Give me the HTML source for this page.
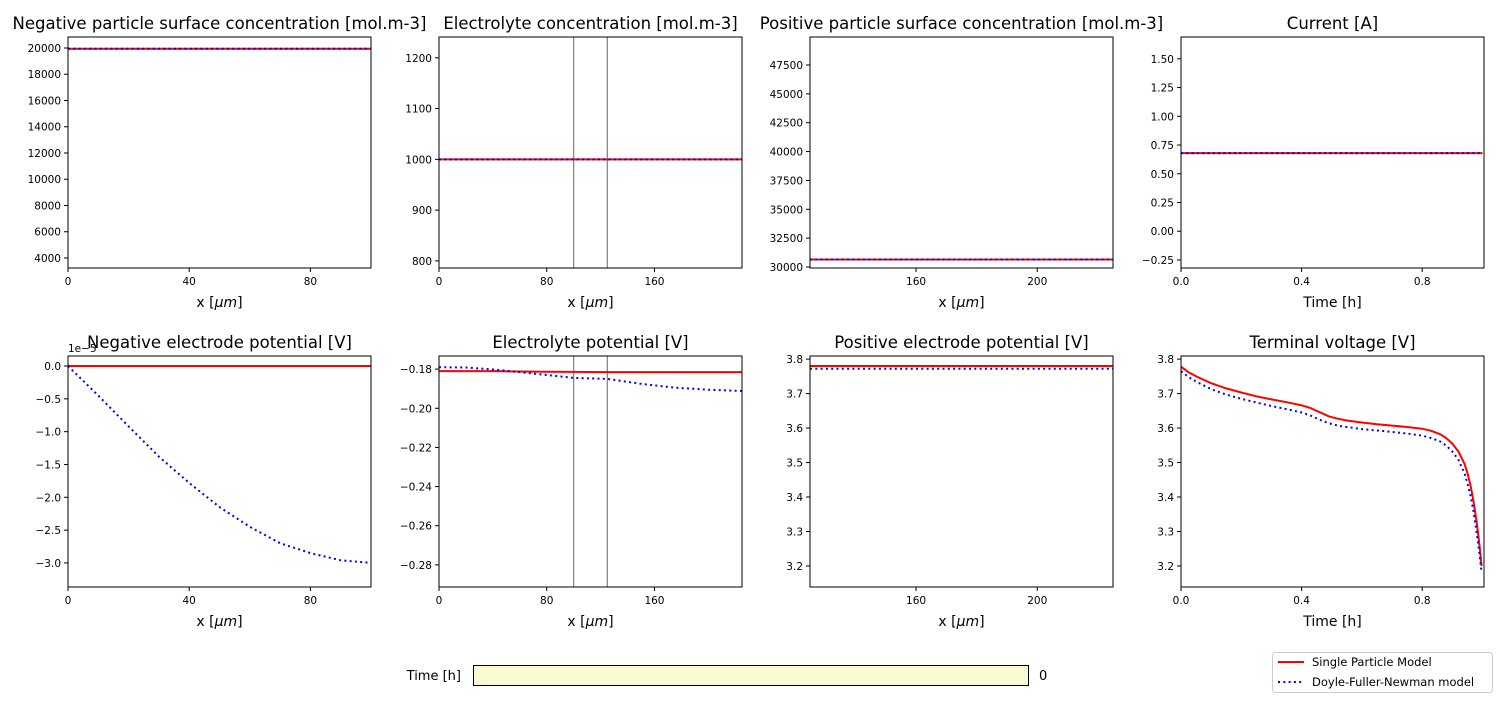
<!DOCTYPE html>
<html><head><meta charset="utf-8"><style>
body{margin:0;background:#fff;}
svg{font-family:"DejaVu Sans","Liberation Sans",sans-serif;}
</style></head><body>
<svg id="fig" width="1500" height="700" viewBox="0 0 1500 700"></svg>
<script>
// ---- data ----
const negConcX=[0,100], negConcSPM=[19950,19950], negConcDFN=[19950,19950];
const elConcX=[0,225], elConcSPM=[1000,1000], elConcDFN=[1000,1000];
const posConcX=[125,225], posConcSPM=[30650,30650], posConcDFN=[30650,30650];
const currX=[0,1], currSPM=[0.68,0.68], currDFN=[0.68,0.68];
const negPotX=[0,10,20,30,40,50,60,70,80,90,100];
const negPotSPM=[0,0,0,0,0,0,0,0,0,0,0];
const negPotDFN=[0,-0.45,-0.92,-1.38,-1.78,-2.15,-2.45,-2.7,-2.85,-2.96,-3.0];
const elPotX=[0,20,40,60,80,100,125,150,175,200,225];
const elPotSPM=[-0.181,-0.181,-0.181,-0.1812,-0.1813,-0.1814,-0.1815,-0.1815,-0.1815,-0.1815,-0.1815];
const elPotDFN=[-0.179,-0.1792,-0.1802,-0.1815,-0.183,-0.1845,-0.185,-0.1875,-0.1895,-0.1905,-0.1912];
const posPotX=[125,225], posPotSPM=[3.78,3.78], posPotDFN=[3.772,3.772];
const tvX=[0,0.025,0.05,0.1,0.15,0.2,0.25,0.3,0.35,0.4,0.43,0.46,0.49,0.52,0.55,0.6,0.65,0.7,0.75,0.8,0.83,0.86,0.88,0.9,0.92,0.94,0.95,0.96,0.97,0.98,0.99,0.997];
const tvSPM=[3.778,3.762,3.75,3.73,3.715,3.703,3.692,3.683,3.675,3.666,3.658,3.646,3.634,3.627,3.622,3.616,3.611,3.607,3.603,3.598,3.592,3.582,3.571,3.555,3.532,3.497,3.47,3.435,3.39,3.33,3.26,3.2];
const tvDFN=[3.765,3.748,3.735,3.713,3.697,3.685,3.674,3.664,3.655,3.645,3.636,3.624,3.614,3.607,3.603,3.597,3.593,3.589,3.584,3.578,3.571,3.561,3.549,3.532,3.508,3.47,3.44,3.405,3.36,3.3,3.235,3.18];
const ticksNegConc=[4000,6000,8000,10000,12000,14000,16000,18000,20000];
const ticksElConc=[800,900,1000,1100,1200];
const ticksPosConc=[30000,32500,35000,37500,40000,42500,45000,47500];
const ticksCurr=[-0.25,0,0.25,0.5,0.75,1,1.25,1.5];
const ticksNegPot=[0,-0.5,-1,-1.5,-2,-2.5,-3];
const ticksElPot=[-0.18,-0.2,-0.22,-0.24,-0.26,-0.28];
const ticksV=[3.2,3.3,3.4,3.5,3.6,3.7,3.8];
const xt1=[0,40,80], xt2=[0,80,160], xt3=[160,200], xtT=[0,0.4,0.8];

const NS="http://www.w3.org/2000/svg";
const svg=document.getElementById('fig');
function mk(t,a,p){const e=document.createElementNS(NS,t);for(const k in a)e.setAttribute(k,a[k]);(p||svg).appendChild(e);return e;}
const cols=[68,439,810,1181], W=303, rows=[37,356], H=231;
const TF=10.5;
function panel(name,c,r,title,xl,xr,yl,yh,xt,yt,xfmt,yfmt,xlab,X,S,D,vlines,offs){
  const x0=cols[c], y0=rows[r];
  const g=mk('g',{});
  
  
  const sx=v=>x0+(v-xl)/(xr-xl)*W, sy=v=>y0+H-(v-yl)/(yh-yl)*H;
  const t=mk('text',{x:x0+W/2,y:y0-8,'text-anchor':'middle','font-size':16.5,fill:'#000'},g);t.textContent=title;
  
  xt.forEach(v=>{const X0=sx(v);mk('line',{x1:X0,x2:X0,y1:y0+H,y2:y0+H+4,stroke:'#000'},g);
    const tt=mk('text',{x:X0,y:y0+H+17,'text-anchor':'middle','font-size':TF},g);tt.textContent=xfmt(v);
    });
  yt.forEach(v=>{const Y=sy(v);mk('line',{x1:x0-4,x2:x0,y1:Y,y2:Y,stroke:'#000'},g);
    const tt=mk('text',{x:x0-7,y:Y+4,'text-anchor':'end','font-size':TF},g);tt.textContent=yfmt(v);
    });
  const xlb=mk('text',{x:x0+W/2,y:y0+H+39,'text-anchor':'middle','font-size':14},g);xlb.innerHTML=xlab;
  
  (vlines||[]).forEach(v=>mk('line',{x1:sx(v),x2:sx(v),y1:y0,y2:y0+H,stroke:'#808080','stroke-width':1.2},g));
  const pts=(ys)=>X.map((v,i)=>sx(v).toFixed(1)+','+sy(ys[i]).toFixed(1)).join(' ');
  const cp='cp'+c+r; const cl=mk('clipPath',{id:cp},g);mk('rect',{x:x0,y:y0,width:W,height:H},cl);
  const a=mk('polyline',{points:pts(S),fill:'none',stroke:'#ff0000','stroke-width':2,'stroke-linejoin':'round','clip-path':`url(#${cp})`},g);
  
  const b=mk('polyline',{points:pts(D),fill:'none',stroke:'#0000ff','stroke-width':2,'stroke-dasharray':'2,3.3','clip-path':`url(#${cp})`},g);
  
  mk('rect',{x:x0,y:y0,width:W,height:H,fill:'none',stroke:'#000','stroke-width':1},g);
  if(offs){const o=mk('text',{x:x0,y:y0-4,'font-size':TF},g);o.textContent=offs;}
}
const f0=v=>String(v), f1=v=>v.toFixed(1).replace('-','−'), f2=v=>v.toFixed(2).replace('-','−');
const xum='x [<tspan font-style="italic">μm</tspan>]';
panel('negative-surface-concentration-panel',0,0,'Negative particle surface concentration [mol.m-3]',0,100,3238,20838,xt1,ticksNegConc,f0,f0,xum,negConcX,negConcSPM,negConcDFN);
panel('electrolyte-concentration-panel',1,0,'Electrolyte concentration [mol.m-3]',0,225,786,1241,xt2,ticksElConc,f0,f0,xum,elConcX,elConcSPM,elConcDFN,[100,125]);
panel('positive-surface-concentration-panel',2,0,'Positive particle surface concentration [mol.m-3]',125,225,29913,49925,xt3,ticksPosConc,f0,f0,xum,posConcX,posConcSPM,posConcDFN);
panel('current-panel',3,0,'Current [A]',0,1.005,-0.32,1.69,xtT,ticksCurr,f1,f2,'Time [h]',currX,currSPM,currDFN);
panel('negative-potential-panel',0,1,'Negative electrode potential [V]',0,100,-3.367,0.153,xt1,ticksNegPot,f0,f1,xum,negPotX,negPotSPM,negPotDFN,null,'1e−5');
panel('electrolyte-potential-panel',1,1,'Electrolyte potential [V]',0,225,-0.2913,-0.1733,xt2,ticksElPot,f0,f2,xum,elPotX,elPotSPM,elPotDFN,[100,125]);
panel('positive-potential-panel',2,1,'Positive electrode potential [V]',125,225,3.139,3.809,xt3,ticksV,f0,f1,xum,posPotX,posPotSPM,posPotDFN);
panel('terminal-voltage-panel',3,1,'Terminal voltage [V]',0,1.005,3.139,3.809,xtT,ticksV,f1,f1,'Time [h]',tvX,tvSPM,tvDFN);
</script>
<svg style="position:absolute;left:0;top:0" width="1500" height="700">
<g font-family="DejaVu Sans, Liberation Sans, sans-serif">
<text x="461" y="680" text-anchor="end" font-size="13">Time [h]</text>
<rect x="473.5" y="665.5" width="555" height="20" fill="#fafad2" stroke="#000"/>
<text x="1039" y="680" font-size="13">0</text>
<g>
<rect x="1272.5" y="652.5" width="220" height="40" rx="3" fill="#fff" stroke="#ccc"/>
<line x1="1278" x2="1304" y1="662" y2="662" stroke="#f00" stroke-width="2"/>
<text x="1312" y="666" font-size="11.5">Single Particle Model</text>
<line x1="1278" x2="1304" y1="682" y2="682" stroke="#00f" stroke-width="2" stroke-dasharray="2,3.3"/>
<text x="1312" y="686" font-size="11.5">Doyle-Fuller-Newman model</text>
</g></g></svg>
</body></html>
